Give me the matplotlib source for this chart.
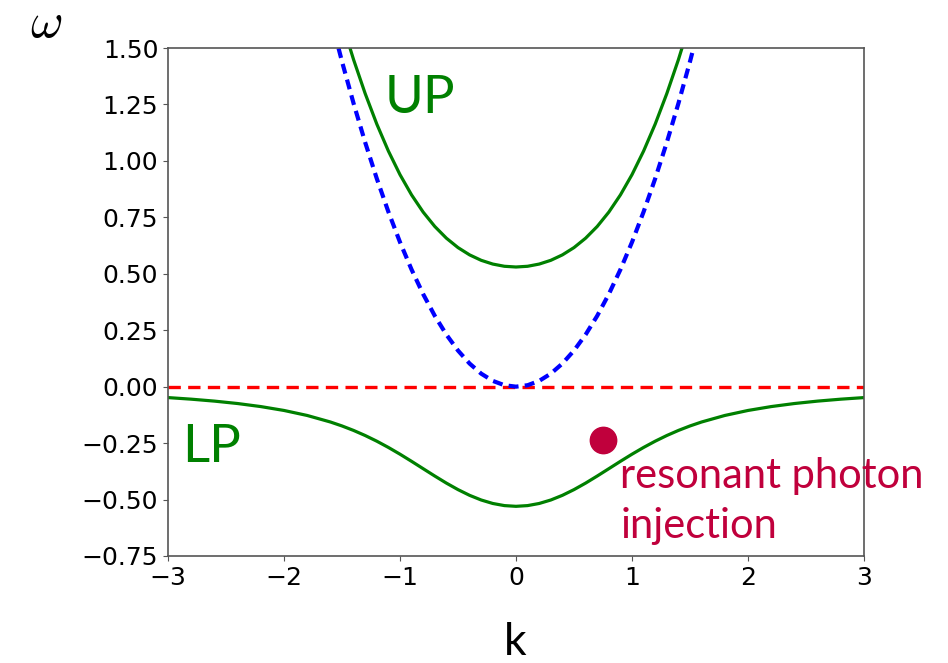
import matplotlib
matplotlib.use("Agg")
import matplotlib.pyplot as plt

# photon / upper polariton branch, k from -1.6 to 1.6 (step 0.1)
k_up = [-1.6, -1.5, -1.4, -1.3, -1.2, -1.1, -1.0, -0.9, -0.8, -0.7, -0.6, -0.5,
        -0.4, -0.3, -0.2, -0.1, 0.0, 0.1, 0.2, 0.3, 0.4, 0.5, 0.6, 0.7, 0.8,
        0.9, 1.0, 1.1, 1.2, 1.3, 1.4, 1.5, 1.6]
w_photon = [1.6384, 1.44, 1.2544, 1.0816, 0.9216, 0.7744, 0.64, 0.5184, 0.4096,
            0.3136, 0.2304, 0.16, 0.1024, 0.0576, 0.0256, 0.0064, 0.0,
            0.0064, 0.0256, 0.0576, 0.1024, 0.16, 0.2304, 0.3136, 0.4096,
            0.5184, 0.64, 0.7744, 0.9216, 1.0816, 1.2544, 1.44, 1.6384]
w_up = [1.7949, 1.6140, 1.4483, 1.2980, 1.1631, 1.0436, 0.9391, 0.8492, 0.7730,
        0.7095, 0.6576, 0.6160, 0.5837, 0.5596, 0.5430, 0.5332, 0.53,
        0.5332, 0.5430, 0.5596, 0.5837, 0.6160, 0.6576, 0.7095, 0.7730,
        0.8492, 0.9391, 1.0436, 1.1631, 1.2980, 1.4483, 1.6140, 1.7949]

# lower polariton branch, k from -3 to 3
k_lp = [-3.0, -2.8, -2.6, -2.4, -2.2, -2.0, -1.8, -1.6, -1.5, -1.4, -1.3, -1.2,
        -1.1, -1.0, -0.9, -0.8, -0.7, -0.6, -0.5, -0.4, -0.3, -0.2, -0.1, 0.0,
        0.1, 0.2, 0.3, 0.4, 0.5, 0.6, 0.7, 0.8, 0.9, 1.0, 1.1, 1.2, 1.3, 1.4,
        1.5, 1.6, 1.8, 2.0, 2.2, 2.4, 2.6, 2.8, 3.0]
w_lp = [-0.0484, -0.0554, -0.0640, -0.0747, -0.0882, -0.1054, -0.1276, -0.1565,
        -0.1740, -0.1939, -0.2164, -0.2415, -0.2692, -0.2991, -0.3308, -0.3634,
        -0.3959, -0.4272, -0.4560, -0.4813, -0.5020, -0.5174, -0.5268, -0.53,
        -0.5268, -0.5174, -0.5020, -0.4813, -0.4560, -0.4272, -0.3959, -0.3634,
        -0.3308, -0.2991, -0.2692, -0.2415, -0.2164, -0.1939, -0.1740, -0.1565,
        -0.1276, -0.1054, -0.0882, -0.0747, -0.0640, -0.0554, -0.0484]

# exciton line
k_ex = [-3.0, 3.0]
w_ex = [0.0, 0.0]

# resonant injection point
k_dot = [0.75]
w_dot = [-0.235]

x_ticks = [-3, -2, -1, 0, 1, 2, 3]
y_ticks = [-0.75, -0.5, -0.25, 0.0, 0.25, 0.5, 0.75, 1.0, 1.25, 1.5]

crimson = "#c0003c"

fig = plt.figure(figsize=(9.48, 6.63), dpi=100)
ax = fig.add_axes([0.1772, 0.1614, 0.7342, 0.7662])

ax.plot(k_ex, w_ex, color="red", lw=2.4, dashes=(3.7, 2.2))
ax.plot(k_up, w_photon, color="blue", lw=3, dashes=(2.4, 1.5))
ax.plot(k_up, w_up, color="green", lw=2.3)
ax.plot(k_lp, w_lp, color="green", lw=2.3)
ax.plot(k_dot, w_dot, "o", color=crimson, ms=19, clip_on=False)

ax.set_xlim(-3, 3)
ax.set_ylim(-0.75, 1.5)
ax.set_xticks(x_ticks)
ax.set_yticks(y_ticks)
ax.set_yticklabels([f"{v:.2f}".replace("-", "\u2212") for v in y_ticks])
ax.tick_params(labelsize=18, colors="#555555", labelcolor="black")
for s in ax.spines.values():
    s.set_color("#555555")
    s.set_linewidth(1.2)

ax.text(-1.13, 1.212, "UP", color="green", fontsize=38, family="Lato",
        va="baseline")
ax.text(-2.88, -0.333, "LP", color="green", fontsize=38, family="Lato",
        va="baseline")
# va="baseline" sits on the last line
ax.text(0.9, -0.670, "resonant photon\ninjection", color=crimson, fontsize=30,
        family="Lato", va="baseline", linespacing=1.37, clip_on=False)

fig.text(0.0316, 0.944, r"$\omega$", fontsize=36, math_fontfamily="cm",
         va="baseline")
fig.text(0.531, 0.012, "k", fontsize=32, family="Lato", va="baseline")

fig.savefig("out.png", dpi=100)
